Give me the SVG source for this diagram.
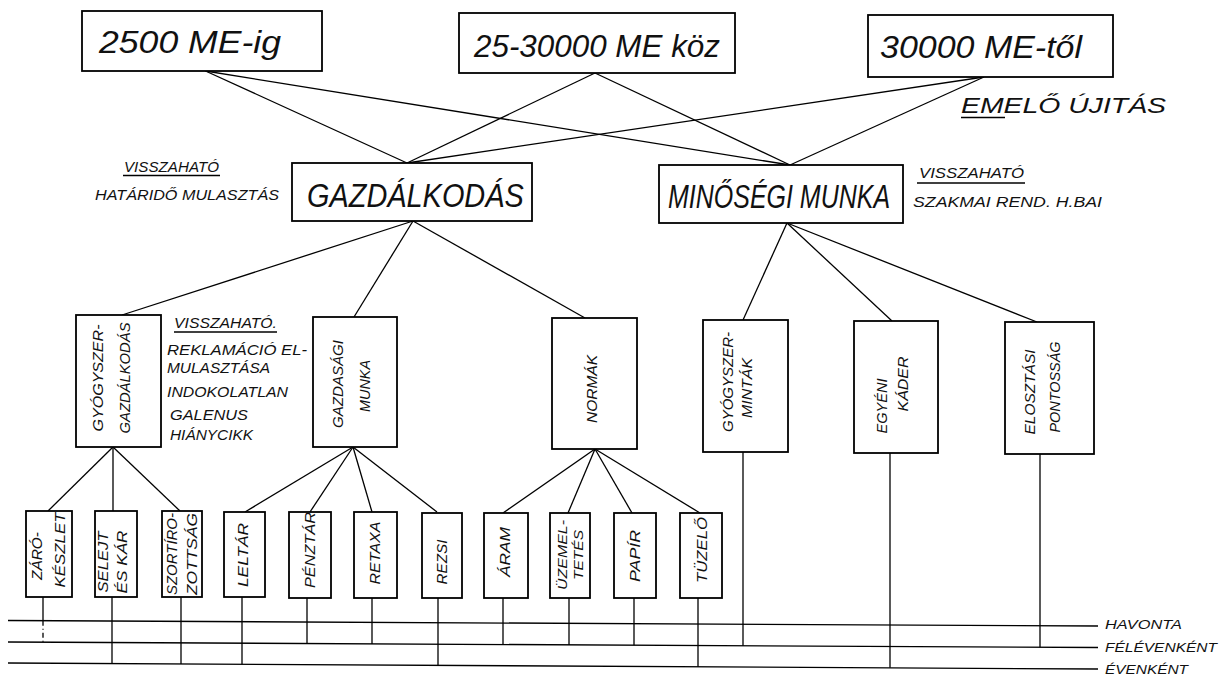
<svg xmlns="http://www.w3.org/2000/svg" width="1230" height="677" viewBox="0 0 1230 677">
<style>
.b{fill:#fff;stroke:#000;stroke-width:1.8}
.l{fill:none;stroke:#000;stroke-width:1.3}
.d{fill:none;stroke:#000;stroke-width:1.3;stroke-dasharray:5 3 1 3}
text{font-family:"Liberation Sans",Arial,sans-serif;font-style:italic;fill:#111}
.t1{font-size:32px}
.t2{font-size:34px}
.t3{font-size:22px}
.s{font-size:14px}
.r{font-size:15px;text-anchor:middle}
.r2{font-size:13px;text-anchor:middle}
.f{font-size:12px}
</style>
<rect width="1230" height="677" fill="#fff"/>
<g id="connectors">
<line class="l" x1="205.5" y1="71" x2="407" y2="163"/>
<line class="l" x1="205.5" y1="71" x2="790" y2="165"/>
<line class="l" x1="595" y1="73" x2="407" y2="163"/>
<line class="l" x1="595" y1="73" x2="790" y2="165"/>
<line class="l" x1="984" y1="77" x2="407" y2="163"/>
<line class="l" x1="984" y1="77" x2="790" y2="165"/>
<line class="l" x1="413" y1="221" x2="122" y2="315"/>
<line class="l" x1="413" y1="221" x2="354" y2="317"/>
<line class="l" x1="413" y1="221" x2="585" y2="318"/>
<line class="l" x1="787" y1="223" x2="743" y2="320"/>
<line class="l" x1="787" y1="223" x2="892" y2="321"/>
<line class="l" x1="787" y1="223" x2="1037" y2="322"/>
<line class="l" x1="113" y1="447" x2="48" y2="511"/>
<line class="l" x1="113" y1="447" x2="113" y2="511"/>
<line class="l" x1="113" y1="447" x2="180" y2="511"/>
<line class="l" x1="353" y1="447" x2="245" y2="512"/>
<line class="l" x1="353" y1="447" x2="310" y2="512"/>
<line class="l" x1="353" y1="447" x2="372" y2="512"/>
<line class="l" x1="353" y1="447" x2="437" y2="512"/>
<line class="l" x1="595" y1="449" x2="503" y2="513"/>
<line class="l" x1="595" y1="449" x2="568" y2="513"/>
<line class="l" x1="595" y1="449" x2="632" y2="513"/>
<line class="l" x1="595" y1="449" x2="700" y2="513"/>
<line class="l" x1="8" y1="620.5" x2="1098" y2="626"/>
<line class="l" x1="8" y1="642" x2="1098" y2="647.5"/>
<line class="l" x1="8" y1="663" x2="1098" y2="669"/>
<line class="l" x1="43" y1="597" x2="43" y2="620.7"/>
<line class="d" x1="43" y1="620.7" x2="43" y2="642.2"/>
<line class="l" x1="112" y1="597" x2="112" y2="663.6"/>
<line class="l" x1="181" y1="597" x2="181" y2="664"/>
<line class="l" x1="242" y1="597" x2="242" y2="664.3"/>
<line class="l" x1="307" y1="598" x2="307" y2="643.5"/>
<line class="l" x1="372" y1="598" x2="372" y2="643.9"/>
<line class="l" x1="438" y1="598" x2="438" y2="665.4"/>
<line class="l" x1="503" y1="598" x2="503" y2="644.5"/>
<line class="l" x1="569" y1="598" x2="569" y2="644.9"/>
<line class="l" x1="634" y1="598" x2="634" y2="645.2"/>
<line class="l" x1="698" y1="598" x2="698" y2="666.7"/>
<line class="l" x1="743" y1="452" x2="743" y2="645.7"/>
<line class="l" x1="890" y1="453" x2="890" y2="667.8"/>
<line class="l" x1="1040" y1="454" x2="1040" y2="647.2"/>
</g>

<g id="n-2500">
<rect class="b" x="82" y="11" width="240" height="60" stroke-width="2"/>
<text class="t1" x="99" y="53" textLength="182" lengthAdjust="spacingAndGlyphs">2500 ME-ig</text>
</g>
<g id="n-25-30000">
<rect class="b" x="459" y="13" width="276" height="60" stroke-width="2"/>
<text class="t1" x="474" y="57" textLength="246" lengthAdjust="spacingAndGlyphs">25-30000 ME köz</text>
</g>
<g id="n-30000">
<rect class="b" x="868" y="15" width="245" height="62" stroke-width="2"/>
<text class="t1" x="880" y="58" textLength="202" lengthAdjust="spacingAndGlyphs">30000 ME-től</text>
</g>
<g id="emelo">
<text class="t3" x="961" y="113" textLength="205" lengthAdjust="spacingAndGlyphs">EMELŐ ÚJITÁS</text>
<line class="l" x1="961" y1="117.5" x2="1005" y2="117.5" stroke-width="1.6"/>
</g>

<g id="n-gazdalkodas">
<rect class="b" x="292" y="163" width="240" height="58" stroke-width="2"/>
<text class="t2" transform="translate(307,207) scale(0.85,1)">GAZDÁLKODÁS</text>
</g>
<g id="ann-gazd">
<text class="s" x="124" y="172" textLength="95" lengthAdjust="spacingAndGlyphs">VISSZAHATÓ</text>
<line class="l" x1="123" y1="175.5" x2="220" y2="175.5"/>
<text class="s" x="95" y="200" textLength="184" lengthAdjust="spacingAndGlyphs">HATÁRIDŐ MULASZTÁS</text>
</g>
<g id="n-minosegi">
<rect class="b" x="659" y="165" width="244" height="58" stroke-width="2"/>
<text class="t2" transform="translate(668,208) scale(0.735,1)">MINŐSÉGI MUNKA</text>
</g>
<g id="ann-min">
<text class="s" x="919" y="178" textLength="105" lengthAdjust="spacingAndGlyphs">VISSZAHATÓ</text>
<line class="l" x1="917" y1="183" x2="1025" y2="183"/>
<text class="s" x="913" y="207" textLength="189" lengthAdjust="spacingAndGlyphs">SZAKMAI REND. H.BAI</text>
</g>

<g id="n-gyogyszergazd">
<rect class="b" x="76" y="315" width="85" height="132"/>
<text class="r" transform="translate(103,378) rotate(-90)" textLength="107" lengthAdjust="spacingAndGlyphs">GYÓGYSZER-</text>
<text class="r" transform="translate(130,378) rotate(-90)" textLength="111" lengthAdjust="spacingAndGlyphs">GAZDÁLKODÁS</text>
</g>
<g id="ann-gyogy">
<text class="s" x="174" y="328" textLength="103" lengthAdjust="spacingAndGlyphs">VISSZAHATÓ.</text>
<line class="l" x1="174" y1="332" x2="277" y2="332"/>
<text class="s" x="167" y="355" textLength="140" lengthAdjust="spacingAndGlyphs">REKLAMÁCIÓ EL-</text>
<text class="s" x="167" y="373" textLength="103" lengthAdjust="spacingAndGlyphs">MULASZTÁSA</text>
<text class="s" x="167" y="397" textLength="121" lengthAdjust="spacingAndGlyphs">INDOKOLATLAN</text>
<text class="s" x="170" y="420" textLength="78" lengthAdjust="spacingAndGlyphs">GALENUS</text>
<text class="s" x="170" y="440" textLength="83" lengthAdjust="spacingAndGlyphs">HIÁNYCIKK</text>
</g>
<g id="n-gazdasagi">
<rect class="b" x="313" y="317" width="84" height="130"/>
<text class="r" transform="translate(343,384) rotate(-90)" textLength="88" lengthAdjust="spacingAndGlyphs">GAZDASÁGI</text>
<text class="r" transform="translate(370,386) rotate(-90)" textLength="52" lengthAdjust="spacingAndGlyphs">MUNKA</text>
</g>
<g id="n-normak">
<rect class="b" x="552" y="318" width="85" height="131"/>
<text class="r" transform="translate(597,389) rotate(-90)" textLength="68" lengthAdjust="spacingAndGlyphs">NORMÁK</text>
</g>
<g id="n-gyogyszermintak">
<rect class="b" x="703" y="320" width="85" height="132"/>
<text class="r" transform="translate(733,382) rotate(-90)" textLength="100" lengthAdjust="spacingAndGlyphs">GYÓGYSZER-</text>
<text class="r" transform="translate(752,388) rotate(-90)" textLength="60" lengthAdjust="spacingAndGlyphs">MINTÁK</text>
</g>
<g id="n-egyeni">
<rect class="b" x="854" y="321" width="84" height="132"/>
<text class="r" transform="translate(887,406) rotate(-90)" textLength="55" lengthAdjust="spacingAndGlyphs">EGYÉNI</text>
<text class="r" transform="translate(908,384) rotate(-90)" textLength="55" lengthAdjust="spacingAndGlyphs">KÁDER</text>
</g>
<g id="n-elosztasi">
<rect class="b" x="1005" y="322" width="89" height="132"/>
<text class="r" transform="translate(1035,392) rotate(-90)" textLength="85" lengthAdjust="spacingAndGlyphs">ELOSZTÁSI</text>
<text class="r" transform="translate(1060,387) rotate(-90)" textLength="91" lengthAdjust="spacingAndGlyphs">PONTOSSÁG</text>
</g>

<g id="n-zaro">
<rect class="b" x="26" y="511" width="46" height="86"/>
<text class="r" transform="translate(42,556) rotate(-90)" textLength="48" lengthAdjust="spacingAndGlyphs">ZÁRÓ-</text>
<text class="r" transform="translate(65,550) rotate(-90)" textLength="75" lengthAdjust="spacingAndGlyphs">KÉSZLET</text>
</g>
<g id="n-selejt">
<rect class="b" x="95" y="511" width="42" height="86"/>
<text class="r" transform="translate(108,562) rotate(-90)" textLength="61" lengthAdjust="spacingAndGlyphs">SELEJT</text>
<text class="r" transform="translate(127,562) rotate(-90)" textLength="63" lengthAdjust="spacingAndGlyphs">ÉS KÁR</text>
</g>
<g id="n-szortiro">
<rect class="b" x="162" y="511" width="40" height="86"/>
<text class="r" transform="translate(177,554) rotate(-90)" textLength="82" lengthAdjust="spacingAndGlyphs">SZORTÍRO-</text>
<text class="r" transform="translate(197,554) rotate(-90)" textLength="82" lengthAdjust="spacingAndGlyphs">ZOTTSÁG</text>
</g>
<g id="n-leltar">
<rect class="b" x="224" y="512" width="41" height="85"/>
<text class="r" transform="translate(248,555) rotate(-90)" textLength="64" lengthAdjust="spacingAndGlyphs">LELTÁR</text>
</g>
<g id="n-penztar">
<rect class="b" x="289" y="512" width="42" height="86"/>
<text class="r" transform="translate(315,550) rotate(-90)" textLength="76" lengthAdjust="spacingAndGlyphs">PÉNZTÁR</text>
</g>
<g id="n-retaxa">
<rect class="b" x="354" y="512" width="43" height="86"/>
<text class="r" transform="translate(380,553) rotate(-90)" textLength="63" lengthAdjust="spacingAndGlyphs">RETAXA</text>
</g>
<g id="n-rezsi">
<rect class="b" x="422" y="513" width="40" height="85"/>
<text class="r" transform="translate(447,562) rotate(-90)" textLength="45" lengthAdjust="spacingAndGlyphs">REZSI</text>
</g>
<g id="n-aram">
<rect class="b" x="484" y="513" width="44" height="85"/>
<text class="r" transform="translate(510,552) rotate(-90)" textLength="50" lengthAdjust="spacingAndGlyphs">ÁRAM</text>
</g>
<g id="n-uzemeltetes">
<rect class="b" x="550" y="513" width="40" height="85"/>
<text class="r2" transform="translate(567,555) rotate(-90)" textLength="70" lengthAdjust="spacingAndGlyphs">ÜZEMEL-</text>
<text class="r2" transform="translate(583,555) rotate(-90)" textLength="50" lengthAdjust="spacingAndGlyphs">TETÉS</text>
</g>
<g id="n-papir">
<rect class="b" x="614" y="513" width="42" height="85"/>
<text class="r" transform="translate(640,556) rotate(-90)" textLength="52" lengthAdjust="spacingAndGlyphs">PAPÍR</text>
</g>
<g id="n-tuzelo">
<rect class="b" x="680" y="513" width="42" height="85"/>
<text class="r" transform="translate(707,550) rotate(-90)" textLength="66" lengthAdjust="spacingAndGlyphs">TÜZELŐ</text>
</g>

<g id="period-labels">
<text class="f" x="1105" y="629" textLength="77" lengthAdjust="spacingAndGlyphs">HAVONTA</text>
<text class="f" x="1105" y="652" textLength="112" lengthAdjust="spacingAndGlyphs">FÉLÉVENKÉNT</text>
<text class="f" x="1105" y="674" textLength="83" lengthAdjust="spacingAndGlyphs">ÉVENKÉNT</text>
</g>
</svg>
